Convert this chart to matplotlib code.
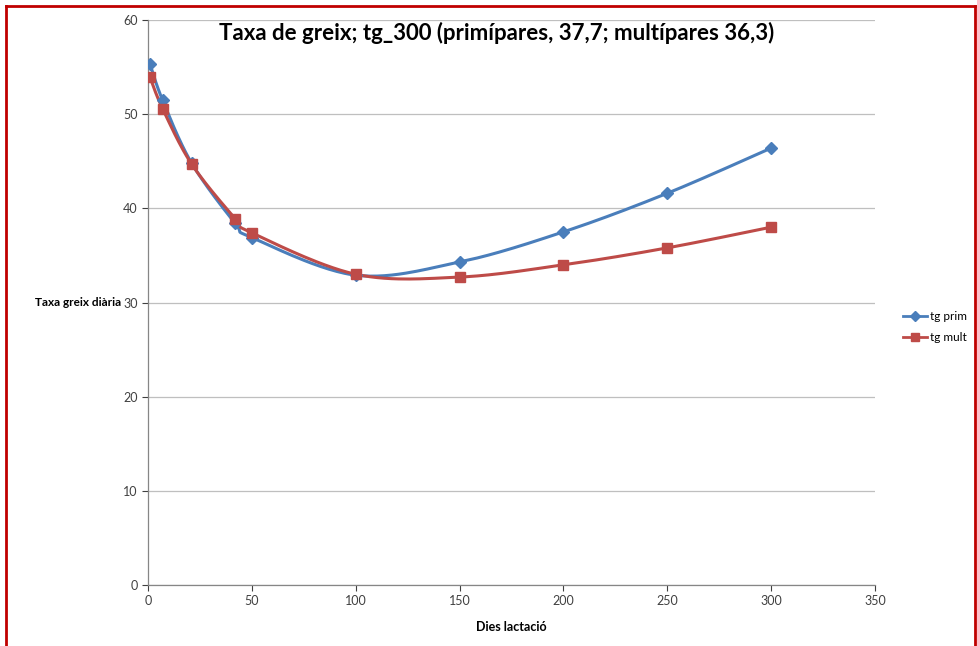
import numpy as np
import matplotlib
matplotlib.use("Agg")
import matplotlib.pyplot as plt
from matplotlib.lines import Line2D

plt.rcParams['font.family'] = ['Lato', 'DejaVu Sans']

days = [1, 7, 21, 42, 50, 100, 150, 200, 250, 300]
tg_prim = [55.3, 51.5, 44.8, 38.4, 36.9, 32.9, 34.3, 37.5, 41.6, 46.4]
tg_mult = [53.9, 50.6, 44.7, 38.9, 37.4, 33.0, 32.7, 34.0, 35.8, 38.0]
xticks = [0, 50, 100, 150, 200, 250, 300, 350]
yticks = [0, 10, 20, 30, 40, 50, 60]

title = "Taxa de greix; tg_300 (primípares, 37,7; multípares 36,3)"
xlabel = "Dies lactació"
ylabel = "Taxa greix diària"


def smooth(x, y, n=30):
    x = np.asarray(x, float)
    y = np.asarray(y, float)
    px = np.concatenate([[x[0]], x, [x[-1]]])
    py = np.concatenate([[y[0]], y, [y[-1]]])
    xs, ys = [], []
    for i in range(1, len(px) - 2):
        p0 = np.array([px[i], py[i]])
        p3 = np.array([px[i + 1], py[i + 1]])
        p1 = p0 + (np.array([px[i + 1], py[i + 1]]) - np.array([px[i - 1], py[i - 1]])) / 6
        p2 = p3 - (np.array([px[i + 2], py[i + 2]]) - np.array([px[i], py[i]])) / 6
        t = np.linspace(0, 1, n)[:, None]
        pts = (1 - t) ** 3 * p0 + 3 * (1 - t) ** 2 * t * p1 + 3 * (1 - t) * t ** 2 * p2 + t ** 3 * p3
        xs.extend(pts[:, 0])
        ys.extend(pts[:, 1])
    return np.array(xs), np.array(ys)


fig = plt.figure(figsize=(9.77, 6.46), dpi=100)
ax = fig.add_axes([148 / 977, 61 / 646, 727 / 977, 565 / 646])

blue = '#4A7EBB'
red = '#BE4B48'

sx, sy = smooth(days, tg_prim)
ax.plot(sx, sy, color=blue, lw=2.2, zorder=3)
ax.plot(days, tg_prim, ls='none', marker='D', ms=6.5, color=blue, zorder=4)
sx, sy = smooth(days, tg_mult)
ax.plot(sx, sy, color=red, lw=2.2, zorder=3)
ax.plot(days, tg_mult, ls='none', marker='s', ms=7.5, color=red, zorder=4)

ax.set_xlim(0, 350)
ax.set_ylim(0, 60)
ax.set_xticks(xticks)
ax.set_yticks(yticks)
ax.tick_params(labelsize=9, colors='#404040', length=4, width=0.8)
for t in ax.get_xticklines() + ax.get_yticklines():
    t.set_color('#868686')
ax.grid(axis='y', color='#BFBFBF', lw=0.9)
ax.set_axisbelow(True)
for s in ['top', 'right']:
    ax.spines[s].set_visible(False)
for s in ['left', 'bottom']:
    ax.spines[s].set_color('#868686')
    ax.spines[s].set_linewidth(0.9)

ax.set_xlabel(xlabel, fontsize=9, fontweight='bold', labelpad=10)
fig.text(121 / 977, 1 - 303 / 646, ylabel, fontsize=8.5, fontweight='bold', ha='right', va='center')
fig.text(497 / 977, 1 - 33 / 646, title, fontsize=16, fontweight='bold', ha='center', va='center')

handles = [Line2D([], [], color=blue, marker='D', ms=5, lw=2),
           Line2D([], [], color=red, marker='s', ms=6, lw=2)]
fig.legend(handles, ['tg prim', 'tg mult'], loc='center left', bbox_to_anchor=(903 / 977, 1 - 327 / 646),
           frameon=False, fontsize=8.5, handlelength=2.0, handletextpad=0.3, labelspacing=0.9,
           borderaxespad=0, borderpad=0)

bc = '#C00000'
fig.add_artist(Line2D([6 / 977, 6 / 977], [0, 1 - 6 / 646], color=bc, lw=2, transform=fig.transFigure))
fig.add_artist(Line2D([6 / 977, 975 / 977], [1 - 6 / 646, 1 - 6 / 646], color=bc, lw=2, transform=fig.transFigure))
fig.add_artist(Line2D([975 / 977, 975 / 977], [0, 1 - 6 / 646], color=bc, lw=2, transform=fig.transFigure))

fig.savefig('out.png', dpi=100)
